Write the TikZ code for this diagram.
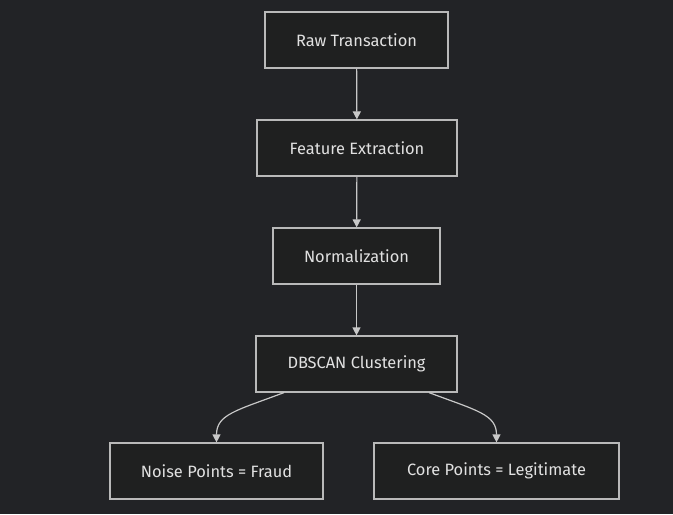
\documentclass[tikz,border=0pt]{standalone}
\usepackage{fontspec}
\setmainfont{Fira Sans}
\usetikzlibrary{calc,
	arrows.meta,
	positioning}
\definecolor{bgcol}{RGB}{34,35,38}
\definecolor{boxfill}{RGB}{31,32,32}
\definecolor{boxline}{RGB}{185,185,185}
\definecolor{txt}{RGB}{225,225,225}
\definecolor{lnk}{RGB}{200,200,200}
\tikzstyle{box}=[draw=boxline, fill=boxfill, text=txt, line width=0.9pt,
		minimum height=56*0.75pt, inner sep=0, font=\fontsize{12.3pt}{15pt}\selectfont]
\tikzstyle{arr}=[draw=lnk, line width=0.9pt, -{Triangle[length=6pt, width=6pt]}]

\begin{document}
\begin{tikzpicture}[x=0.75pt, y=-0.75pt]
        \fill[bgcol] (0,0) rectangle (673,514);
        \node[box, minimum width=183*0.75pt] (raw) at (356.5,40) {Raw Transaction};
        \node[box, minimum width=200*0.75pt] (feat) at (357,148) {Feature Extraction};
        \node[box, minimum width=167*0.75pt] (norm) at (356.5,256) {Normalization};
        \node[box, minimum width=201*0.75pt] (dbscan) at (356.5,364) {DBSCAN Clustering};
        \node[box, minimum width=213*0.75pt] (noise) at (216.5,471) {Noise Points = Fraud};
        \node[box, minimum width=245*0.75pt] (core) at (496.5,471) {Core Points = Legitimate};
        \draw[arr] (raw) -- (feat);
        \draw[arr] (feat) -- (norm);
        \draw[arr] (norm) -- (dbscan);
        \draw[arr] ($(dbscan.south)+(-72.5,0)$) .. controls +(-48,18) and +(0,-28) .. (noise.north);
        \draw[arr] ($(dbscan.south)+(72.5,0)$) .. controls +(48,18) and +(0,-28) .. (core.north);
    \end{tikzpicture}
\end{document}
